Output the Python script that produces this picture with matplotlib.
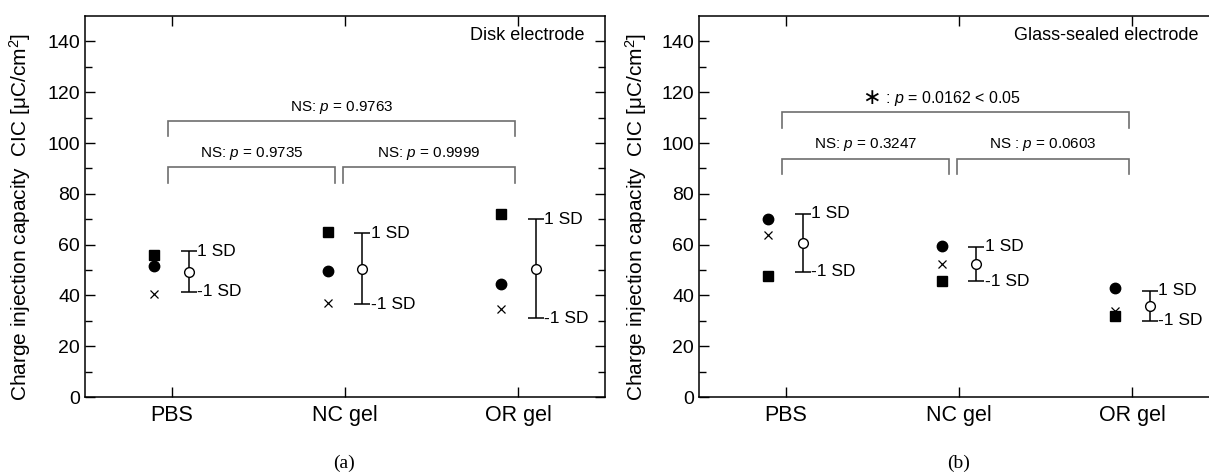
import matplotlib
matplotlib.use('Agg')
import matplotlib.pyplot as plt
from matplotlib.offsetbox import TextArea, HPacker, AnnotationBbox
import numpy as np

plt.rcParams['font.family'] = ['Liberation Sans', 'DejaVu Sans']
plt.rcParams['mathtext.fontset'] = 'custom'
plt.rcParams['mathtext.it'] = 'Liberation Sans:italic'
plt.rcParams['mathtext.rm'] = 'Liberation Sans'

categories = ['PBS', 'NC gel', 'OR gel']

# (a) disk electrode
disk_square = [56.0, 64.9, 72.2]
disk_circle = [51.7, 49.7, 44.4]
disk_cross = [40.5, 36.9, 34.7]
disk_mean = [49.4, 50.5, 50.5]
disk_sd = [7.9, 14.0, 19.5]
disk_p = ['NS: $p$ = 0.9735', 'NS: $p$ = 0.9999', 'NS: $p$ = 0.9763']

# (b) glass-sealed electrode
glass_square = [47.8, 45.6, 31.9]
glass_circle = [70.2, 59.3, 42.8]
glass_cross = [63.6, 52.4, 33.9]
glass_mean = [60.7, 52.4, 36.0]
glass_sd = [11.4, 6.8, 5.9]
glass_p = ['NS: $p$ = 0.3247', 'NS : $p$ = 0.0603', ' : $p$ = 0.0162 < 0.05']

fig = plt.figure(figsize=(12.09, 4.75), dpi=100)
ax1 = fig.add_axes([0.0703, 0.1642, 0.4301, 0.8021])
ax2 = fig.add_axes([0.5782, 0.1642, 0.4301, 0.8021])


def bracket(ax, x1, x2, y, drop, text, ty, star=False):
    ax.plot([x1, x1, x2, x2], [y - drop, y, y, y - drop], color='#6e6e6e', lw=1.2,
            solid_joinstyle='miter')
    if star:
        parts = HPacker(children=[
            TextArea('\u2217', textprops=dict(fontsize=16, family='DejaVu Sans')),
            TextArea(text, textprops=dict(fontsize=11.5))], align='center', pad=0, sep=0)
        ab = AnnotationBbox(parts, ((x1 + x2) / 2 - 0.08, ty), frameon=False,
                            box_alignment=(0.5, 0.5), pad=0)
        ax.add_artist(ab)
    else:
        ax.text((x1 + x2) / 2, ty, text, ha='center', va='center', fontsize=11)


def panel(ax, sq, ci, cr, mean, sd, pvals, title, low_y, high_y, ylab_x, star):
    x = np.arange(1, len(categories) + 1)
    ax.plot(x - 0.1, sq, 's', color='black', ms=6.5, ls='none')
    ax.plot(x - 0.1, ci, 'o', color='black', ms=7.5, ls='none')
    ax.plot(x - 0.1, cr, 'x', color='black', ms=6, mew=0.9, ls='none')
    ax.errorbar(x + 0.1, mean, yerr=sd, fmt='o', mfc='white', mec='black', ms=7,
                ecolor='black', elinewidth=1.1, capsize=6, capthick=1.1, color='black', zorder=3)
    for xi, m, s in zip(x, mean, sd):
        ax.annotate('1 SD', (xi + 0.1, m + s), xytext=(6, 0), textcoords='offset points',
                    ha='left', va='center', fontsize=12.5)
        ax.annotate('-1 SD', (xi + 0.1, m - s), xytext=(6, 0), textcoords='offset points',
                    ha='left', va='center', fontsize=12.5)

    bracket(ax, 0.98, 1.94, low_y, 6, pvals[0], low_y + 5.5)
    bracket(ax, 1.99, 2.98, low_y, 6, pvals[1], low_y + 5.5)
    bracket(ax, 0.98, 2.98, high_y, 6, pvals[2], high_y + 5.5, star=star)

    ax.text(0.96, 0.95, title, transform=ax.transAxes, ha='right', va='center', fontsize=13)

    ax.set_xlim(0.5, 3.5)
    ax.set_ylim(0, 150)
    ax.set_xticks(x)
    ax.set_xticklabels(categories, fontsize=15.5)
    ax.set_yticks(np.arange(0, 141, 20))
    ax.set_yticks(np.arange(10, 150, 20), minor=True)
    ax.tick_params(axis='y', labelsize=14)
    ax.tick_params(which='both', direction='in', top=True, right=True, width=1)
    ax.tick_params(which='major', length=7)
    ax.tick_params(which='minor', length=5)
    ax.tick_params(axis='x', pad=6)
    for sp in ax.spines.values():
        sp.set_linewidth(1.1)
    ax.set_ylabel('Charge injection capacity  CIC [\u03bcC/cm$^2$]', fontsize=15)
    ax.yaxis.set_label_coords(ylab_x, 0.472)


panel(ax1, disk_square, disk_circle, disk_cross, disk_mean, disk_sd, disk_p,
      'Disk electrode', 90.4, 108.6, -0.10, False)
panel(ax2, glass_square, glass_circle, glass_cross, glass_mean, glass_sd, glass_p,
      'Glass-sealed electrode', 93.8, 112.1, -0.096, True)

fig.text(0.2845, 0.025, '(a)', ha='center', va='center', fontsize=14, family='Liberation Serif')
fig.text(0.793, 0.025, '(b)', ha='center', va='center', fontsize=14, family='Liberation Serif')

fig.savefig('out.png', dpi=100)
